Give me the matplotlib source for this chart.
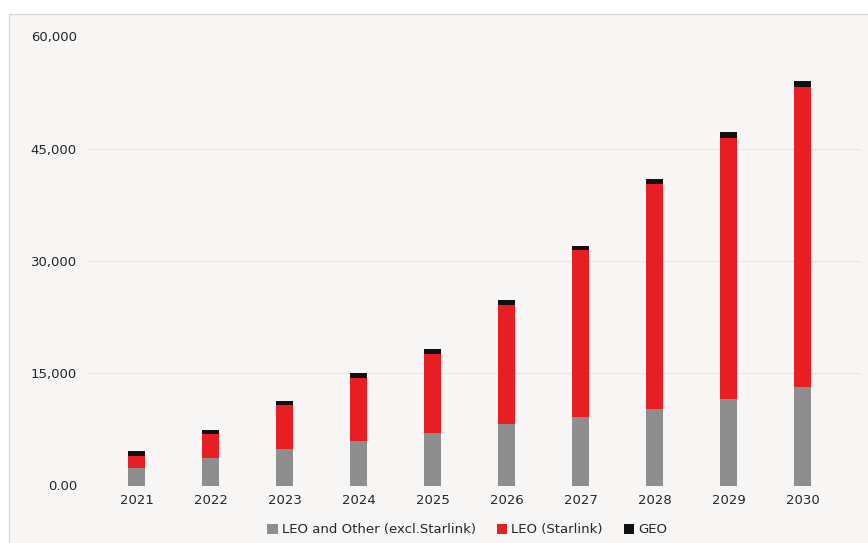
import numpy as np
import matplotlib
matplotlib.use("Agg")
import matplotlib.pyplot as plt
from matplotlib.patches import Rectangle
from matplotlib.ticker import FuncFormatter

years = ["2021", "2022", "2023", "2024", "2025", "2026", "2027", "2028", "2029", "2030"]
leo_other = [2400, 3700, 4900, 6000, 7000, 8200, 9100, 10200, 11600, 13100]
leo_starlink = [1550, 3150, 5800, 8400, 10550, 15900, 22400, 30150, 34800, 40100]
geo = [600, 600, 600, 600, 650, 750, 550, 600, 800, 800]

series_names = ["LEO and Other (excl.Starlink)", "LEO (Starlink)", "GEO"]
colors = ["#8e8e8e", "#e81e25", "#111111"]
yticks = [0, 15000, 30000, 45000, 60000]

fig = plt.figure(figsize=(8.68, 5.43), dpi=100)
fig.patch.set_facecolor("white")

# light panel with thin border, cropped at right/bottom
bg = fig.add_axes([0, 0, 1, 1], zorder=-1)
bg.set_xlim(0, 868)
bg.set_ylim(543, 0)
bg.axis("off")
bg.add_patch(Rectangle((9, 14), 900, 600, facecolor="#f7f6f5", edgecolor="#d9d9d9", linewidth=1.0))

ax = fig.add_axes([88 / 868, 1 - 485.5 / 543, (862 - 88) / 868, (485.5 - 36.5) / 543])
ax.set_facecolor("none")

x = np.arange(len(years))
w = 0.23
bottom = np.zeros(len(years))
for vals, name, col in zip([leo_other, leo_starlink, geo], series_names, colors):
    ax.bar(x, vals, w, bottom=bottom, color=col, label=name, zorder=3)
    bottom += np.array(vals)

ax.set_ylim(0, 60000)
ax.set_xlim(-0.66, 9.8)
ax.set_yticks(yticks)
ax.yaxis.set_major_formatter(FuncFormatter(lambda v, p: "0.00" if v == 0 else f"{int(v):,}"))
ax.set_xticks(x)
ax.set_xticklabels(years)
ax.tick_params(axis="both", length=0, labelsize=9.5, labelcolor="#262626")
ax.tick_params(axis="y", pad=8)
ax.tick_params(axis="x", pad=6)
ax.grid(axis="y", color="#d8d8d8", linestyle=(0, (1.5, 1.5)), linewidth=0.8, zorder=0)
for s in ax.spines.values():
    s.set_visible(False)

leg = ax.legend(loc="upper center", bbox_to_anchor=(0.49, -0.058), ncol=3, frameon=False,
                fontsize=9.5, handlelength=0.8, handleheight=0.8, handletextpad=0.3,
                columnspacing=1.6, labelcolor="#262626")

fig.savefig("out.png", dpi=100)
